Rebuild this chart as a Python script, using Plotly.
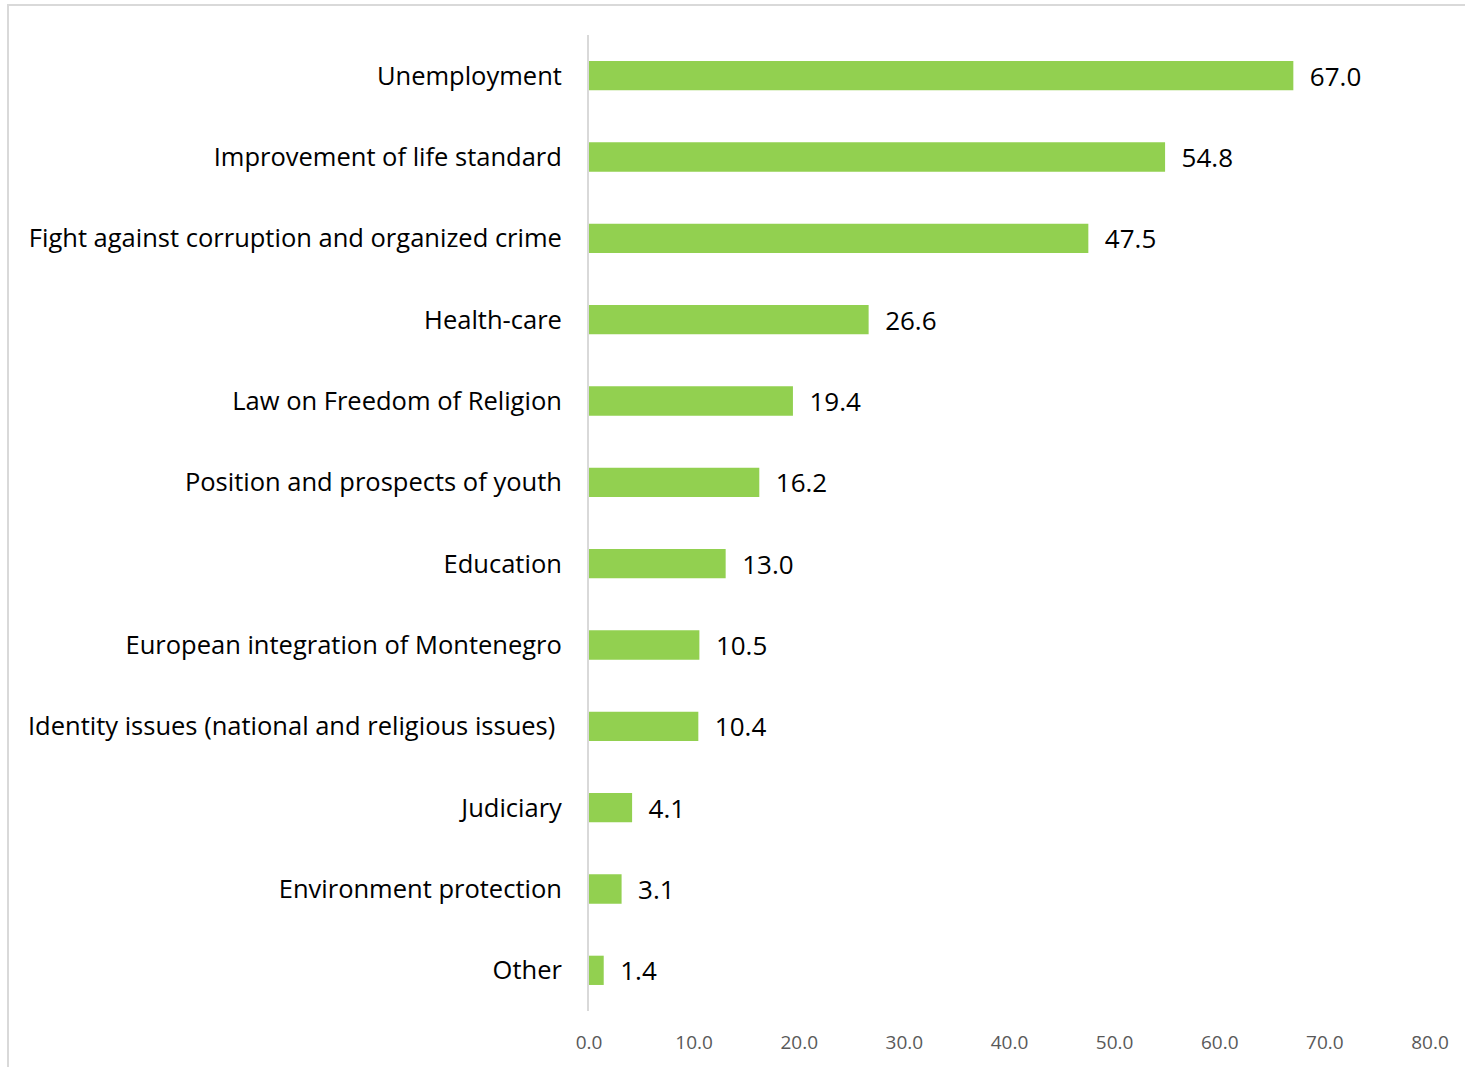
import plotly.graph_objects as go

# Most important issues (share of respondents, %)
categories = [
    "Unemployment",
    "Improvement of life standard",
    "Fight against corruption and organized crime",
    "Health-care",
    "Law on Freedom of Religion",
    "Position and prospects of youth",
    "Education",
    "European integration of Montenegro",
    "Identity issues (national and religious issues)\u00a0",
    "Judiciary",
    "Environment protection",
    "Other",
]
values = [67.0, 54.8, 47.5, 26.6, 19.4, 16.2, 13.0, 10.5, 10.4, 4.1, 3.1, 1.4]
tick_values = [0, 10, 20, 30, 40, 50, 60, 70, 80]
tick_labels = ["0.0", "10.0", "20.0", "30.0", "40.0", "50.0", "60.0", "70.0", "80.0"]

FONT = "'Open Sans', sans-serif"

fig = go.Figure(
    go.Bar(
        x=values,
        y=categories,
        orientation="h",
        marker=dict(color="#92D050", line=dict(width=0)),
        text=values,
        texttemplate="  %{x:.1f}",
        textposition="outside",
        constraintext="none",
        cliponaxis=False,
        textfont=dict(family=FONT, size=26, color="#000000"),
        hoverinfo="skip",
    )
)

fig.update_layout(
    width=1465,
    height=1067,
    margin=dict(l=589, r=35, t=35, b=56),
    paper_bgcolor="white",
    plot_bgcolor="white",
    bargap=0.64,
    showlegend=False,
    font=dict(family=FONT),
)

fig.update_yaxes(
    categoryorder="array",
    categoryarray=categories[::-1],
    showgrid=False,
    showline=True,
    linecolor="#D9D9D9",
    linewidth=2,
    ticks="",
    ticklabelstandoff=20,
    tickfont=dict(family=FONT, size=25.5, color="#000000"),
)

fig.update_xaxes(
    range=[0, 80],
    tickvals=tick_values,
    ticktext=tick_labels,
    showgrid=False,
    zeroline=False,
    showline=False,
    ticks="",
    ticklabelstandoff=18,
    tickfont=dict(family=FONT, size=19, color="#595959"),
)

# Chart frame
fig.add_shape(
    type="rect",
    xref="paper", yref="paper",
    x0=(8 - 589) / 841, x1=(1475 - 589) / 841,
    y0=(1011 - 1080) / 976, y1=(1011 - 5) / 976,
    line=dict(color="#D9D9D9", width=2),
    fillcolor="rgba(0,0,0,0)",
    layer="below",
)

fig.write_html("out.html")
